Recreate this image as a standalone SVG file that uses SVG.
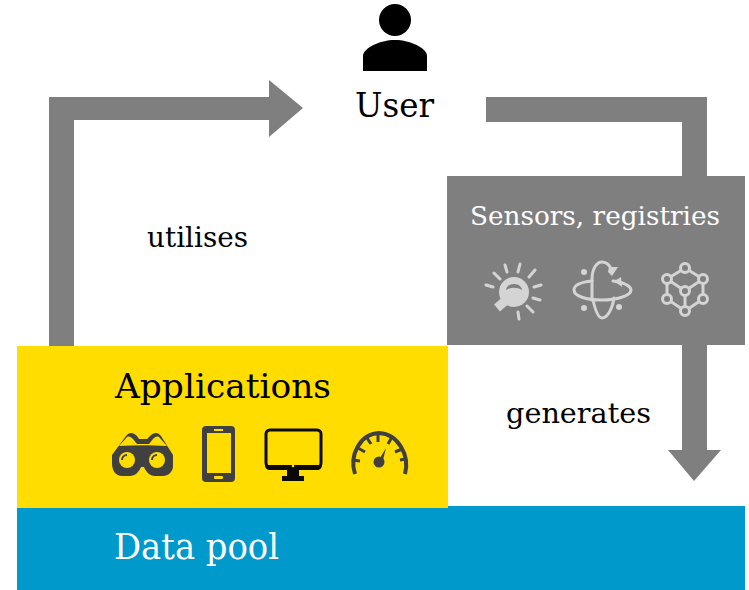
<svg xmlns="http://www.w3.org/2000/svg" width="749" height="590" viewBox="0 0 749 590">
<style>
text{font-family:"DejaVu Serif","Liberation Serif",serif}
.conn{fill:#7f7f7f}
.ic{fill:#404040}
.sl{fill:none;stroke:#d4d4d4;stroke-width:3;stroke-linecap:round}
</style>
<rect width="749" height="590" fill="#fff"/>
<g id="connectors">
<polygon class="conn" points="49,346 49,97 269,97 269,80 303,108 269,137 269,120 74,120 74,346"/>
<polygon class="conn" points="486,97 707,97 707,177 682,177 682,122 486,122"/>
<polygon class="conn" points="682,344 707,344 707,450 721,450 694,481 668,450 682,450"/>
</g>
<g id="user">
<circle cx="395" cy="20" r="16"/>
<path d="M363,71V56C363,48 380,40 395,40C410,40 427,48 427,56V71Z"/>
<text x="355" y="117" font-size="33" textLength="79" lengthAdjust="spacingAndGlyphs">User</text>
</g>
<text x="147" y="247" font-size="27" textLength="101" lengthAdjust="spacingAndGlyphs" id="label-utilises">utilises</text>
<text x="506" y="423" font-size="27" textLength="145" lengthAdjust="spacingAndGlyphs" id="label-generates">generates</text>
<g id="data-pool">
<rect x="17" y="506" width="728" height="84" fill="#0099cc"/>
<text x="114" y="559" font-size="35" fill="#fff" textLength="165" lengthAdjust="spacingAndGlyphs">Data pool</text>
</g>
<g id="sensors">
<rect x="447" y="176" width="298" height="169" fill="#7f7f7f"/>
<text x="470" y="225" font-size="26" fill="#fff" textLength="250" lengthAdjust="spacingAndGlyphs">Sensors, registries</text>
<g>
<circle cx="514" cy="292" r="15" fill="#d4d4d4"/>
<path d="M506,290C507,282 521,282 522,290C517,287 511,287 506,290Z" fill="#7f7f7f"/>
<path d="M505,301L497,308" stroke="#d4d4d4" stroke-width="9" fill="none"/>
<path class="sl" d="M486,285L493,287M494,273L500,279M505,265L507,272M520,264L518,272M535,270L529,277M541,285L534,287M540,300L533,298M533,312L527,306M519,319L518,312"/>
</g>
<g>
<path class="sl" d="M613,281C628,283 631,288 631,290C631,296 616,300 602,300C586,300 574,296 574,290C574,285 582,282 592,281"/>
<path class="sl" d="M593,300C596,313 599,318 602,318C607,318 612,310 614,298M592,280C592,268 597,262 602,262C607,262 610,265 612,271"/>
<path class="sl" d="M592,281V300"/>
<path d="M608,272L612,276L618,267L609,267ZM618,279L614,281L622,287L621,277Z" fill="#d4d4d4"/>
<circle cx="584" cy="272" r="3" fill="#d4d4d4"/>
<circle cx="584" cy="308" r="3" fill="#d4d4d4"/>
<circle cx="619" cy="307" r="3" fill="#d4d4d4"/>
</g>
<g fill="#7f7f7f" stroke="#d4d4d4" stroke-width="3">
<path d="M685,268L667,279V299L685,311L703,299V279ZM667,279L685,291L703,279M685,291V311" fill="none"/>
<circle cx="685" cy="268" r="4.500"/>
<circle cx="667" cy="279" r="4.500"/>
<circle cx="703" cy="279" r="4.500"/>
<circle cx="685" cy="291" r="4.500"/>
<circle cx="667" cy="299" r="4.500"/>
<circle cx="703" cy="299" r="4.500"/>
<circle cx="685" cy="311" r="4.500"/>
</g>
</g>
<g id="applications">
<rect x="17" y="346" width="431" height="162" fill="#ffdd00"/>
<text x="115" y="398" font-size="34" textLength="216" lengthAdjust="spacingAndGlyphs">Applications</text>
<g>
<path class="ic" d="M112,463V455L126,436C129,432 133,432 137,436L139,439H147L150,436C154,432 158,432 161,436L173,455V466C173,472 168,476 163,476H155C150,476 146,472 144,467H141C139,472 135,476 130,476H122C116,476 112,471 112,463Z"/>
<path d="M119,446L127,437C129,436 131,437 133,439L137,444H149L153,439C155,437 157,436 159,437L167,446C150,445 135,445 119,446Z" fill="#ffdd00"/>
<circle cx="127" cy="460" r="8" fill="#ffdd00"/>
<circle cx="157" cy="460" r="8" fill="#ffdd00"/>
<path d="M122,460A5,5 0 0 1 127,455M152,460A5,5 0 0 1 157,455" fill="none" stroke="#404040" stroke-width="2"/>
</g>
<g>
<rect x="202" y="426" width="33" height="56" rx="4" class="ic"/>
<rect x="207" y="433" width="24" height="40" fill="#ffdd00"/>
<rect x="214" y="429" width="9" height="2" fill="#ffdd00"/>
<rect x="214" y="476" width="9" height="3" rx="1" fill="#ffdd00"/>
</g>
<g>
<rect x="266" y="430" width="55" height="37" rx="4" fill="#ffdd00" stroke="#0a0a0a" stroke-width="3"/>
<path d="M265,465H322C322,468 320,470 317,470H270C267,470 265,468 265,465Z" fill="#0a0a0a"/>
<circle cx="293" cy="466" r="1.300" fill="#ffdd00"/>
<path d="M287,470H299V476H304V481H282V476H287Z" fill="#0a0a0a"/>
</g>
<g fill="none" stroke="#404040">
<path d="M355,474C349,455 360,434 379,433C398,434 410,455 405,474" stroke-width="4"/>
<path d="M358,448L365,452M367,438L371,444M378,434V442M392,437L388,444M402,449L395,452M352,460L360,461M406,459L400,460" stroke-width="3"/>
<circle cx="379" cy="462" r="5.500" fill="#404040" stroke="none"/>
<path d="M380,458L386,448L383,460Z" fill="#404040" stroke="none"/>
</g>
</g>
</svg>
